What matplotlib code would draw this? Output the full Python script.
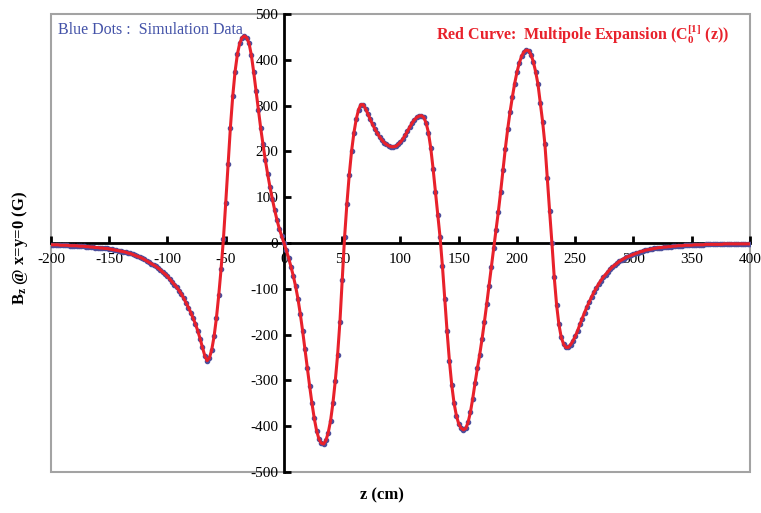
import numpy as np
import matplotlib
matplotlib.use("Agg")
import matplotlib.pyplot as plt
from matplotlib.patches import Rectangle

plt.rcParams["font.family"] = "Liberation Serif"
plt.rcParams["axes.unicode_minus"] = False
plt.rcParams["mathtext.fontset"] = "custom"
plt.rcParams["mathtext.rm"] = "Liberation Serif:bold"
plt.rcParams["mathtext.it"] = "Liberation Serif:bold"
plt.rcParams["mathtext.bf"] = "Liberation Serif:bold"

# on-axis field, sampled every 2 cm from -200 to 400 cm
z = np.arange(-200, 401, 2)
bz = np.array([
    -4, -4, -4, -4, -5, -5, -5, -5, -6, -6,            # -200 .. -182
    -6, -6, -7, -7, -7, -8, -8, -9, -9, -10,           # -180 .. -162
    -10, -11, -11, -12, -12, -13, -14, -15, -16, -17,  # -160 .. -142
    -18, -19, -20, -22, -23, -25, -27, -29, -31, -33,  # -140 .. -122
    -36, -39, -42, -45, -48, -51, -55, -59, -64, -68,  # -120 .. -102
    -73, -79, -85, -91, -97, -104, -112, -121, -131, -141,    # -100 .. -82
    -152, -164, -177, -192, -209, -228, -246, -257, -251, -233,  # -80 .. -62
    -204, -164, -114, -57, 8, 88, 172, 252, 320, 374,  # -60 .. -42
    412, 436, 448, 452, 448, 436, 410, 373, 332, 290,  # -40 .. -22
    251, 215, 181, 150, 122, 96, 72, 50, 31, 15,       # -20 .. -2
    0, -16, -33, -52, -72, -95, -122, -155, -192, -232,         # 0 .. 18
    -272, -312, -350, -383, -410, -428, -437, -439, -431, -414,  # 20 .. 38
    -388, -350, -302, -245, -173, -80, 12, 85, 148, 200,  # 40 .. 58
    240, 270, 291, 302, 302, 293, 282, 270, 259, 249,    # 60 .. 78
    240, 232, 225, 219, 215, 212, 210, 210, 211, 215,    # 80 .. 98
    220, 227, 235, 244, 253, 262, 269, 274, 277, 278,    # 100 .. 118
    274, 262, 241, 207, 162, 112, 62, 12, -50, -122,     # 120 .. 138
    -193, -257, -310, -350, -377, -395, -404, -408, -405, -392,  # 140 .. 158
    -370, -340, -306, -274, -244, -210, -173, -134, -93, -52,    # 160 .. 178
    -12, 28, 68, 112, 160, 206, 248, 285, 318, 348,      # 180 .. 198
    373, 393, 408, 417, 421, 420, 411, 396, 374, 347,    # 200 .. 218
    306, 265, 215, 142, 70, 0, -75, -135, -178, -206,    # 220 .. 238
    -221, -228, -228, -222, -214, -204, -192, -178, -165, -152,  # 240 .. 258
    -140, -129, -118, -108, -99, -90, -82, -75, -69, -63,  # 260 .. 278
    -57, -52, -48, -44, -40, -37, -34, -31, -29, -27,    # 280 .. 298
    -25, -23, -21, -19, -18, -16, -15, -14, -13, -12,    # 300 .. 318
    -11, -10, -10, -9, -9, -8, -8, -7, -7, -6,           # 320 .. 338
    -6, -6, -5, -5, -5, -5, -4, -4, -4, -4,              # 340 .. 358
    -4, -3, -3, -3, -3, -3, -3, -3, -3, -2,              # 360 .. 378
    -2, -2, -2, -2, -2, -2, -2, -2, -2, -2,              # 380 .. 398
    -2,                                                  # 400
])

x_ticks = np.arange(-200, 401, 50)
y_ticks = np.arange(-500, 501, 100)

fig = plt.figure(figsize=(7.61, 5.13), dpi=100)
ax = fig.add_axes([0.067, 0.080, 0.9185, 0.8928])

# simulation points underneath, expansion curve on top
ax.plot(z, bz, linestyle="none", marker="o", markersize=3.0,
        color="#4c4f9c", zorder=3)
ax.plot(z, bz, color="#e8212b", lw=2.2, zorder=4)

ax.set_xlim(-200, 400)
ax.set_ylim(-500, 500)

# axes crossing at the origin, grey frame round the plot area
ax.spines["left"].set_position(("data", 0))
ax.spines["bottom"].set_position(("data", 0))
for side in ("left", "bottom"):
    ax.spines[side].set_linewidth(2)
    ax.spines[side].set_color("black")
    ax.spines[side].set_zorder(2)
ax.spines["top"].set_visible(False)
ax.spines["right"].set_visible(False)
ax.add_patch(Rectangle((0, 0), 1, 1, transform=ax.transAxes, fill=False,
                       edgecolor="#a3a3a3", lw=1.5, clip_on=False, zorder=1))

ax.set_xticks(x_ticks)
ax.set_yticks(y_ticks)
ax.tick_params(direction="in", length=5, width=2, labelsize=11)
ax.tick_params(axis="x", pad=7)
ax.tick_params(axis="y", pad=4)

ax.text(0.01, 0.966, "Blue Dots :  Simulation Data", transform=ax.transAxes,
        color="#4352a8", fontsize=11.5, ha="left", va="center")
ax.text(0.97, 0.955, r"Red Curve:  Multipole Expansion (C$_0^{[1]}$ (z))",
        transform=ax.transAxes, color="#e8212b", fontsize=11.5,
        fontweight="bold", ha="right", va="center")

fig.text(382 / 761, 1 - 495 / 513, "z (cm)", fontsize=12, fontweight="bold",
         ha="center", va="center")
fig.text(20 / 761, 1 - 248 / 513, r"B$_z$ @ x=y=0 (G)", fontsize=12,
         fontweight="bold", rotation=90, ha="center", va="center")

fig.savefig("out.png", dpi=100)
